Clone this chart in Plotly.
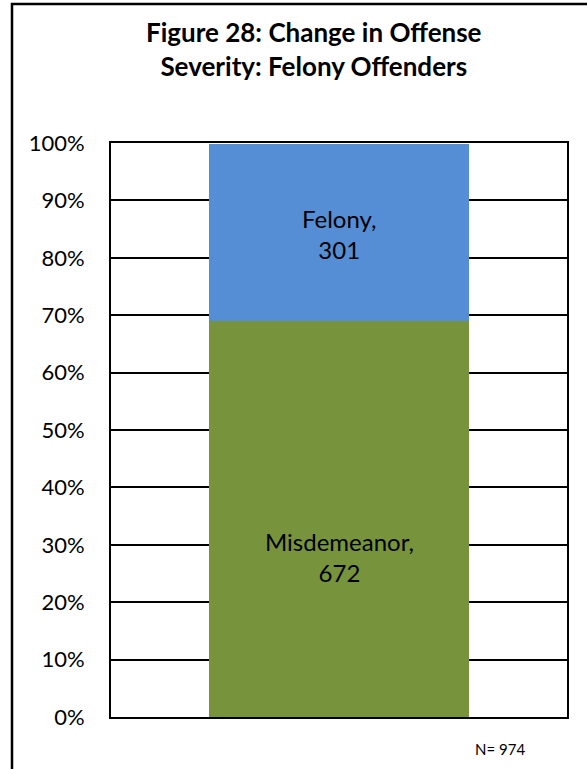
import plotly.graph_objects as go

categories = ["Felony Offenders"]
series_names = ["Misdemeanor", "Felony"]
counts = [672, 301]
total_n = 974
colors = ["#77933C", "#558ED5"]
tick_vals = [0, 10, 20, 30, 40, 50, 60, 70, 80, 90, 100]
tick_text = [f"{v}%" for v in tick_vals]
label_y = [27.9, 84.1]

FONT = "Lato"
PL, PR, PT, PB = 111, 567, 143, 717
W, H = 587, 769

def px_x(p):
    return (p - PL) / (PR - PL)

def px_y(p):
    return (PB - p) / (PB - PT)

fig = go.Figure()
for name, c, col in zip(series_names, counts, colors):
    fig.add_trace(go.Bar(
        x=categories, y=[c / total_n * 100], name=name,
        marker=dict(color=col, line=dict(width=0)),
        width=0.572, hoverinfo="skip",
    ))

for name, c, ly in zip(series_names, counts, label_y):
    fig.add_annotation(
        x=categories[0], y=ly, xref="x", yref="y",
        text=f"{name},<br>{c}", showarrow=False,
        xanchor="center", yanchor="middle",
        font=dict(family=FONT, size=24, color="black"),
        align="center",
    )

fig.add_annotation(
    x=px_x(314), y=px_y(49), xref="paper", yref="paper",
    xanchor="center", yanchor="middle",
    text="<b>Figure 28: Change in Offense<br>Severity: Felony Offenders</b>",
    showarrow=False, align="center",
    font=dict(family=FONT, size=26, color="black"),
)
fig.add_annotation(
    x=px_x(500), y=px_y(749), xref="paper", yref="paper",
    xanchor="center", yanchor="middle",
    text=f"N= {total_n}", showarrow=False,
    font=dict(family=FONT, size=15, color="black"),
)

fig.add_shape(type="rect", xref="paper", yref="paper",
              x0=px_x(12), x1=px_x(640), y0=px_y(4), y1=px_y(800),
              line=dict(color="black", width=2.5), fillcolor="rgba(0,0,0,0)")

fig.update_layout(
    width=W, height=H, barmode="stack", showlegend=False,
    paper_bgcolor="white", plot_bgcolor="white",
    margin=dict(l=PL, r=W - PR, t=PT, b=H - PB, pad=0),
    font=dict(family=FONT, color="black"),
)
fig.update_xaxes(showticklabels=False, showgrid=False, range=[-0.5, 0.5],
                 showline=True, linecolor="black", linewidth=2, mirror=True)
fig.update_yaxes(range=[0, 100], tickvals=tick_vals, ticktext=tick_text,
                 showgrid=True, gridcolor="black", gridwidth=1.5,
                 showline=True, linecolor="black", linewidth=2, mirror=True,
                 ticks="", ticklabelstandoff=20,
                 tickfont=dict(family=FONT, size=22, color="black"),
                 zeroline=False)

fig.write_html("out.html", config={"displayModeBar": False},
               post_script="document.body.style.margin='0px';document.body.style.overflow='hidden';")
